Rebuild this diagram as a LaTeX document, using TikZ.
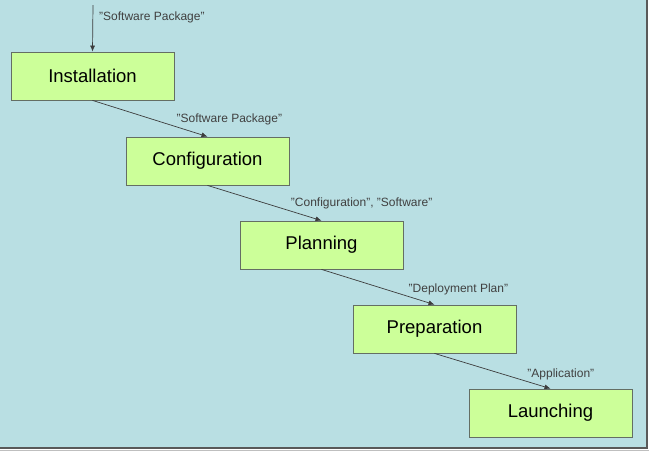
\documentclass[tikz,border=0pt]{standalone}
\usepackage{fontspec}
\setmainfont{Liberation Sans}
\usepackage{tikz}
\usetikzlibrary{calc}
\usetikzlibrary{arrows.meta}

\definecolor{paneblue}{RGB}{185,223,227}
\definecolor{stagegreen}{RGB}{204,255,153}
\definecolor{stageline}{RGB}{100,110,100}
\definecolor{flowline}{RGB}{60,60,60}

\tikzset{
  stage/.style={draw=stageline, line width=0.8pt, fill=stagegreen,
    minimum width=163pt, minimum height=48pt, inner sep=0pt,
    font=\fontsize{18.5}{21}\selectfont},
  flow/.style={draw=flowline, line width=0.7pt, -{Latex[length=6pt,width=5pt]}},
  flowlabel/.style={font=\fontsize{12}{14}\selectfont, text=black!75, inner sep=1pt}
}

\begin{document}
\begin{tikzpicture}[x=1pt, y=-1pt]
    \useasboundingbox (0,0) rectangle (649,451);
    \fill[paneblue] (0,0) rectangle (647,448);
    \draw[black!65, line width=1.6pt] (647,0) -- (647,448) -- (0,448);
    \draw[black!25, line width=1pt] (0,450) -- (649,450);

    \node[stage] (inst) at (92.5,76) {Installation};
    \node[stage] (conf) at (207.5,161) {Configuration};
    \node[stage] (plan) at (321.5,245) {Planning};
    \node[stage] (prep) at (434.5,329) {Preparation};
    \node[stage] (laun) at (550.5,413) {Launching};

    \coordinate (start) at (93,5);
    \draw[flow] (start) -- (inst.north)
      node[flowlabel, pos=0.27, anchor=west, xshift=5pt] (lab0) {"Software Package"};
    \draw[flow] (inst.south) -- (conf.north)
      node[flowlabel, pos=0.72, anchor=south west] (lab1) {"Software Package"};
    \draw[flow] (conf.south) -- (plan.north)
      node[flowlabel, pos=0.72, anchor=south west] (lab2) {"Configuration", "Software"};
    \draw[flow] (plan.south) -- (prep.north)
      node[flowlabel, pos=0.76, anchor=south west] (lab3) {"Deployment Plan"};
    \draw[flow] (prep.south) -- (laun.north)
      node[flowlabel, pos=0.79, anchor=south west] (lab4) {"Application"};
  \end{tikzpicture}
\end{document}
